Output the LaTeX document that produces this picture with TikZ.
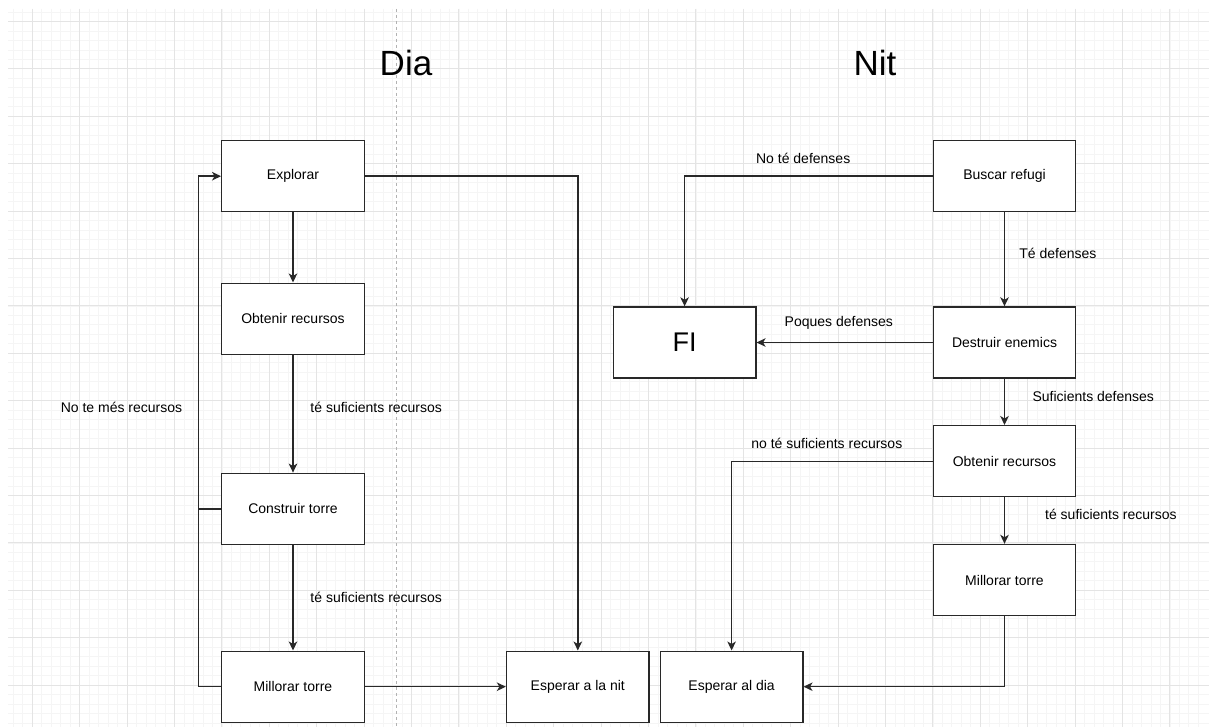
\documentclass[tikz,border=0pt]{standalone}
\usepackage{fontspec}
\setmainfont{Liberation Sans}
\usepackage{tikz}
\usetikzlibrary{positioning}
\usetikzlibrary{arrows.meta}

\definecolor{gridminor}{RGB}{245,245,245}
\definecolor{gridmajor}{RGB}{228,228,228}
\definecolor{lineclr}{RGB}{40,40,40}

\begin{document}
\begin{tikzpicture}[x=1pt, y=-1pt,
    arr/.style={-{Stealth[length=9pt,width=8.5pt,inset=2.5pt]}, draw=lineclr, line width=1.4pt},
    conn/.style={draw=lineclr, line width=1.4pt},
    lbl/.style={font=\fontsize{14}{16}\selectfont, inner sep=0pt},
    title/.style={font=\fontsize{35}{40}\selectfont, inner sep=0pt}
    ]
    \useasboundingbox (0,0) rectangle (1209,727);
    \fill[white] (0,0) rectangle (1209,727);

    % background grid
    \foreach \i in {0,...,125}
        \draw[gridminor, line width=0.8pt] (13.34+\i*9.48, 9) -- (13.34+\i*9.48, 727);
    \foreach \j in {0,...,75}
        \draw[gridminor, line width=0.8pt] (8, 12.02+\j*9.48) -- (1209, 12.02+\j*9.48);
    \foreach \i in {0,...,24}
        \draw[gridmajor, line width=0.9pt] (32.3+\i*47.4, 9) -- (32.3+\i*47.4, 727);
    \foreach \j in {0,...,14}
        \draw[gridmajor, line width=0.9pt] (8, 21.5+\j*47.4) -- (1209, 21.5+\j*47.4);

    % day / night separator
    \draw[black!30, dashed, dash pattern=on 3pt off 3pt, line width=0.7pt] (396, 9) -- (396, 727);

    \node[title] (dia) at (406, 63) {Dia};
    \node[title] (nit) at (875, 63) {Nit};

    \begin{scope}[every node/.style={draw=lineclr, fill=white, line width=1.4pt,
        rectangle, minimum width=142.5pt, minimum height=71pt,
        font=\fontsize{14}{16}\selectfont
        }]
        % day
        \node (expl)at (293, 176.2){Explorar};
        \node (obtL)at (293, 318.7){Obtenir recursos};
        \node (constr)at (293, 508.8){Construir torre};
        \node (millL)at (293, 686.7){Millorar torre};
        \node (espNit)at (577.8, 686.7){Esperar a la nit};
        % night
        \node (busc)at (1004.5, 176.2){Buscar refugi};
        \node (fi)at (684.6, 342.5){\fontsize{27}{30}\selectfont FI};
        \node (destr)at (1004.5, 342.5){Destruir enemics};
        \node (obtR)at (1004.5, 461.2){Obtenir recursos};
        \node (millR)at (1004.5, 580){Millorar torre};
        \node (espDia)at (731.6, 686.7){Esperar al dia};
    \end{scope}

    % day arrows
    \draw[arr] (expl) -- (obtL);
    \draw[arr] (obtL) -- (constr);
    \draw[arr] (constr) -- (millL);
    \draw[arr] (millL) -- (espNit);
    \draw[arr] (expl) -| (espNit);
    % back to explore
    \coordinate (loopA) at (198.2, 508.8);
    \draw[arr] (millL.west) -| (loopA) |- (expl.west);
    \draw[conn] (constr.west) -- (loopA);

    \node[lbl] (lSuf1) at (376.2, 407.7) {té suficients recursos};
    \node[lbl] (lSuf2) at (376.2, 597.7) {té suficients recursos};
    \node[lbl] (lNoMes) at (121.5, 407.7) {No te més recursos};

    % night arrows
    \draw[arr] (busc) -| (fi);
    \draw[arr] (busc) -- (destr);
    \draw[arr] (destr) -- (fi);
    \draw[arr] (destr) -- (obtR);
    \draw[arr] (obtR) -- (millR);
    \draw[arr] (obtR) -| (espDia);
    \draw[arr] (millR) |- (espDia);

    \node[lbl] (lNoDef) at (803.2, 158.3) {No té defenses};
    \node[lbl] (lDef) at (1057.9, 253) {Té defenses};
    \node[lbl] (lPoq) at (838.8, 322.7) {Poques defenses};
    \node[lbl] (lSufDef) at (1093.3, 396) {Suficients defenses};
    \node[lbl] (lNoSuf) at (826.8, 443.3) {no té suficients recursos};
    \node[lbl] (lSufR) at (1110.9, 514.7) {té suficients recursos};
\end{tikzpicture}
\end{document}
